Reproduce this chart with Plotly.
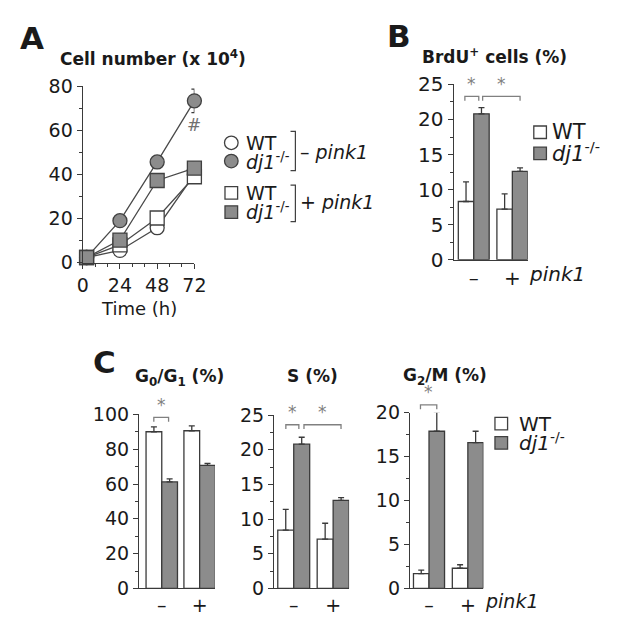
import plotly.graph_objects as go

W, H = 623, 630
FONT = "DejaVu Sans"
AX = "#3a3a3a"
TXT = "#1a1a1a"
GRAY = "#8c8c8c"
SIG = "#808080"

# ---------------- data ----------------
# Panel A: cell number (x 10^4) over time
time_h = [2.5, 24, 48, 72]
wt_minus = [2.3, 5.5, 15.8, 40.0]
wt_plus = [2.3, 8.0, 20.2, 38.9]
dj1_minus = [2.3, 19.0, 45.6, 73.3]
dj1_minus_err = [0.0, 0.0, 0.0, 5.3]
dj1_plus = [2.3, 10.2, 37.2, 42.8]
dj1_plus_err = [0.0, 0.0, 0.0, 2.6]
time_ticks = [0, 24, 48, 72]

# bar panels: groups are -pink1 / +pink1
groups = ["\u2013", "+"]
group_pos = [0, 1]
brdu_wt = [8.3, 7.2]
brdu_wt_err = [2.8, 2.2]
brdu_dj1 = [20.8, 12.6]
brdu_dj1_err = [0.9, 0.5]

g0g1_wt = [90.0, 90.6]
g0g1_wt_err = [2.8, 2.8]
g0g1_dj1 = [61.2, 70.7]
g0g1_dj1_err = [1.8, 1.1]

s_wt = [8.4, 7.1]
s_wt_err = [3.0, 2.3]
s_dj1 = [20.8, 12.7]
s_dj1_err = [1.0, 0.4]

g2m_wt = [1.7, 2.3]
g2m_wt_err = [0.4, 0.4]
g2m_dj1 = [17.9, 16.6]
g2m_dj1_err = [2.2, 1.3]

# significance brackets: (x start, x end, level)
sig_brdu = [(-0.23, 0.13, 23.3), (0.23, 1.2, 23.3)]
sig_g0g1 = [(-0.21, 0.18, 98.3)]
sig_s = [(-0.2, 0.13, 23.6), (0.26, 1.2, 23.6)]
sig_g2m = [(-0.22, 0.2, 20.9)]

# ---------------- helpers ----------------
def px(x):
    return x / W

def py(y):
    return 1 - y / H

fig = go.Figure()

# ---------------- Panel A ----------------
line_style = dict(color="#4a4a4a", width=1.3)
for vals, sym, fill, err in [
    (wt_minus, "circle", "white", None),
    (wt_plus, "square", "white", None),
    (dj1_minus, "circle", GRAY, dj1_minus_err),
    (dj1_plus, "square", GRAY, dj1_plus_err),
]:
    tr = dict(
        x=time_h, y=vals, mode="lines+markers", line=line_style,
        marker=dict(symbol=sym, size=14, color=fill, line=dict(color="#404040", width=1.3)),
        cliponaxis=False, showlegend=False, xaxis="x", yaxis="y",
    )
    if err is not None:
        tr["error_y"] = dict(type="data", array=err, visible=True, color=AX, thickness=1.3, width=3)
    fig.add_trace(go.Scatter(**tr))

# ---------------- bar panels ----------------
bar_panels = [
    ("2", brdu_wt, brdu_wt_err, brdu_dj1, brdu_dj1_err, 0.4),
    ("3", g0g1_wt, g0g1_wt_err, g0g1_dj1, g0g1_dj1_err, 0.415),
    ("4", s_wt, s_wt_err, s_dj1, s_dj1_err, 0.405),
    ("5", g2m_wt, g2m_wt_err, g2m_dj1, g2m_dj1_err, 0.4),
]
for ax, wt, wte, dj, dje, bw in bar_panels:
    for vals, err, fill, off in [(wt, wte, "white", -bw), (dj, dje, GRAY, 0)]:
        fig.add_trace(go.Bar(
            x=group_pos, y=vals, width=bw, offset=off,
            marker=dict(color=fill, line=dict(color=AX, width=1.3)),
            error_y=dict(type="data", array=err, arrayminus=[0, 0], symmetric=False,
                         color=AX, thickness=1.3, width=3),
            cliponaxis=False, showlegend=False, xaxis="x" + ax, yaxis="y" + ax,
        ))

# ---------------- axes ----------------
def yax(anchor, bottom_px, top_px, rng, dtick, minor_dtick, fs):
    return dict(
        anchor=anchor, domain=[py(bottom_px), py(top_px)], range=rng,
        showline=True, linecolor=AX, linewidth=1.3, ticks="outside", ticklen=5,
        tickwidth=1.3, tickcolor=AX, tick0=0, dtick=dtick, showgrid=False,
        zeroline=False, tickfont=dict(size=fs, family=FONT, color=TXT),
        minor=dict(dtick=minor_dtick, tick0=0, ticks="outside", ticklen=3,
                   tickwidth=1.1, tickcolor=AX),
    )

def xbar(anchor, left_px, right_px, rng, fs):
    return dict(
        anchor=anchor, domain=[px(left_px), px(right_px)], range=rng,
        showline=True, linecolor=AX, linewidth=1.3, ticks="", showgrid=False,
        zeroline=False, tickvals=group_pos, ticktext=groups,
        tickfont=dict(size=fs, family=FONT, color=TXT),
    )

A_bottom, A_top = 260.5, 77
B_bottom, B_top = 257.5, 75.3
C_bottom = 599.3

axes = dict(
    xaxis=dict(
        anchor="y", domain=[px(79), px(194)], range=[0, 72], showline=True,
        linecolor=AX, linewidth=1.3, ticks="outside", ticklen=5, tickwidth=1.3,
        tickcolor=AX, tickvals=time_ticks, showgrid=False, zeroline=False,
        tickfont=dict(size=19, family=FONT, color=TXT),
        minor=dict(dtick=8, tick0=0, ticks="outside", ticklen=3, tickwidth=1.1, tickcolor=AX),
    ),
    yaxis=yax("x", A_bottom, A_top, [0, 80], 20, 10, 19),
    xaxis2=xbar("y2", 461, 537.3, [-0.52, 1.4], 20),
    yaxis2=yax("x2", B_bottom, B_top, [0, 25], 5, 2.5, 20),
    xaxis3=xbar("y3", 137, 215.2, [-0.6, 1.405], 19),
    yaxis3=yax("x3", C_bottom, 418.3, [0, 100], 20, 10, 19),
    xaxis4=xbar("y4", 276, 353.3, [-0.5, 1.405], 19),
    yaxis4=yax("x4", C_bottom, 419, [0, 25], 5, 2.5, 19),
    xaxis5=xbar("y5", 416, 491.6, [-0.49, 1.4], 19),
    yaxis5=yax("x5", C_bottom, 416.7, [0, 20], 5, 2.5, 19),
)

# ---------------- significance brackets ----------------
shapes = []
annotations = []

def y_to_paper(v, bottom_px, top_px, rng):
    b, t = py(bottom_px), py(top_px)
    return b + (v - rng[0]) / (rng[1] - rng[0]) * (t - b)

for ax, sigs, bottom, top, rng in [
    ("x2", sig_brdu, B_bottom, B_top, [0, 25]),
    ("x3", sig_g0g1, C_bottom, 418.3, [0, 100]),
    ("x4", sig_s, C_bottom, 419, [0, 25]),
    ("x5", sig_g2m, C_bottom, 416.7, [0, 20]),
]:
    for x0, x1, lvl in sigs:
        yp = y_to_paper(lvl, bottom, top, rng)
        drop = 4.5 / H
        shapes.append(dict(
            type="path", xref=ax, yref="paper",
            path=f"M {x0},{yp - drop} L {x0},{yp} L {x1},{yp} L {x1},{yp - drop}",
            line=dict(color=SIG, width=1.3),
        ))
        annotations.append(dict(
            x=(x0 + x1) / 2, y=yp + 0.5 / H, xref=ax, yref="paper", text="*",
            showarrow=False, yanchor="bottom", xanchor="center",
            font=dict(size=17, family=FONT, color=SIG),
        ))

# ---------------- legends (drawn as shapes + text) ----------------
def circ(cx, cy, d, fill):
    return dict(type="circle", xref="paper", yref="paper",
                x0=px(cx - d / 2), x1=px(cx + d / 2), y0=py(cy + d / 2), y1=py(cy - d / 2),
                fillcolor=fill, line=dict(color="#404040", width=1.3))

def sq(cx, cy, d, fill):
    return dict(type="rect", xref="paper", yref="paper",
                x0=px(cx - d / 2), x1=px(cx + d / 2), y0=py(cy + d / 2), y1=py(cy - d / 2),
                fillcolor=fill, line=dict(color="#404040", width=1.3))

shapes += [
    circ(232, 136, 14, "white"), circ(232, 155, 14, GRAY),
    sq(232, 188, 13, "white"), sq(232, 208, 13, GRAY),
    sq(550, 125, 13, "white"), sq(550, 147, 13, GRAY),
    sq(510, 428, 13, "white"), sq(510, 448, 13, GRAY),
]
for y0, y1 in [(124, 165), (180, 218)]:
    shapes.append(dict(
        type="path", xref="paper", yref="paper",
        path=f"M {px(293)},{py(y0)} L {px(298)},{py(y0)} L {px(298)},{py(y1)} L {px(293)},{py(y1)}",
        line=dict(color="#404040", width=1.2),
    ))

def txt(text, x, y, size, anchor="left", bold=False, color=TXT):
    return dict(text=f"<b>{text}</b>" if bold else text, x=px(x), y=py(y),
                xref="paper", yref="paper", xanchor=anchor, yanchor="middle",
                showarrow=False, font=dict(size=size, family=FONT, color=color))

dj1 = "<i>dj1</i><sup>-/-</sup>"
annotations += [
    txt("A", 12, 27, 31, bold=True),
    txt("B", 390, 25, 31, bold=True),
    txt("C", 88, 364, 31, bold=True),
    txt("Cell number (x 10<sup>4</sup>)", 54, 48, 17, bold=True),
    txt("BrdU<sup>+</sup> cells (%)", 426, 46, 17, bold=True),
    txt("Time (h)", 137, 308, 18, anchor="center"),
    txt("G<sub>0</sub>/G<sub>1</sub> (%)", 131, 380, 17, bold=True),
    txt("S (%)", 287, 378, 17, bold=True),
    txt("G<sub>2</sub>/M (%)", 407, 379, 17, bold=True),
    txt("WT", 245, 136, 19), txt(dj1, 245, 155, 19),
    txt("WT", 245, 188, 19), txt(dj1, 245, 207, 19),
    txt("\u2013 <i>pink1</i>", 301, 146, 19),
    txt("+ <i>pink1</i>", 301, 198, 19),
    txt("WT", 560, 125, 21), txt(dj1, 560, 146, 21),
    txt("WT", 526, 428, 20), txt(dj1, 526, 447, 20),
    txt("<i>pink1</i>", 536, 272, 20),
    txt("<i>pink1</i>", 491, 612, 19),
    dict(text="#", x=72, y=62.5, xref="x", yref="y", showarrow=False,
         xanchor="center", yanchor="middle", font=dict(size=17, family=FONT, color="#707070")),
]

fig.update_layout(
    width=W, height=H, margin=dict(l=0, r=0, t=0, b=0),
    paper_bgcolor="white", plot_bgcolor="rgba(0,0,0,0)",
    barmode="overlay", shapes=shapes, annotations=annotations,
    font=dict(family=FONT, color=TXT), showlegend=False,
    **axes,
)

fig.write_html("out.html", config={"displayModeBar": False},
               post_script="document.body.style.margin='0';")
